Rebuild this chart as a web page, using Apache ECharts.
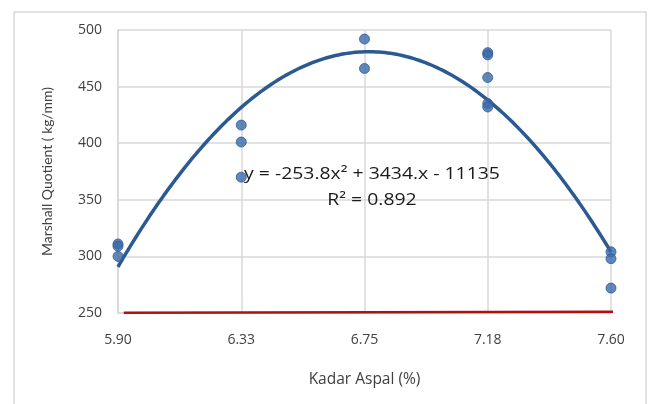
<!DOCTYPE html>
<html>
<head>
<meta charset="utf-8">
<script src="https://cdn.jsdelivr.net/npm/echarts@6/dist/echarts.min.js"></script>
<style>
  html, body { margin: 0; padding: 0; background: #ffffff; }
  #chart { width: 648px; height: 404px; }
</style>
</head>
<body>
<div id="chart"></div>
<script>
// Asphalt content (%) at each test group and the tick labels shown under them
const kadarAspal = [5.9, 6.325, 6.75, 7.175, 7.6];
const xTickLabels = ['5.90', '6.33', '6.75', '7.18', '7.60'];

// Marshall Quotient (kg/mm) of the specimens at each asphalt content
const mqAt590 = [311, 309, 300];
const mqAt633 = [416, 401, 370];
const mqAt675 = [492, 466];
const mqAt718 = [480, 478, 458, 435, 432];
const mqAt760 = [304, 298, 272];

// Polynomial trend line coefficients: y = a x^2 + b x + c
const trendA = -253.8;
const trendB = 3434;
const trendC = -11135;
const trendR2 = 0.892;

// Minimum limit line
const limitLine = [[5.92, 250.3], [7.62, 251.2]];

const groups = [mqAt590, mqAt633, mqAt675, mqAt718, mqAt760];
const scatterData = [];
groups.forEach((vals, i) => vals.forEach(v => scatterData.push([kadarAspal[i], v])));

const trendData = [];
for (let k = 0; k <= 170; k++) {
  const x = 5.9 + k * 0.01;
  trendData.push([x, trendA * x * x + trendB * x + trendC]);
}

const wide = '"Open Sans", sans-serif';
const narrow = 'Lato, "Open Sans", sans-serif';
const chart = echarts.init(document.getElementById('chart'), null, { renderer: 'canvas' });

chart.setOption({
  backgroundColor: '#ffffff',
  animation: false,
  grid: { left: 118, right: 37, top: 30, bottom: 91, containLabel: false },
  graphic: [{
    type: 'rect',
    shape: { x: 14, y: 12, width: 632, height: 400 },
    style: { fill: 'none', stroke: '#d9d9d9', lineWidth: 1.5 },
    silent: true
  }, {
    type: 'text',
    x: 372,
    y: 161,
    scaleX: 1.14,
    style: {
      text: 'y = -253.8x² + 3434.x - 11135\nR² = ' + trendR2,
      font: '17px ' + wide,
      fill: '#1a1a1a',
      align: 'center',
      verticalAlign: 'top',
      lineHeight: 26
    },
    z: 10
  }],
  xAxis: {
    type: 'value',
    min: 5.9,
    max: 7.6,
    name: 'Kadar Aspal (%)',
    nameLocation: 'middle',
    nameGap: 59,
    nameTextStyle: { color: '#404040', fontSize: 15.5, fontFamily: wide },
    axisLine: { show: true, onZero: false, lineStyle: { color: '#d9d9d9', width: 1.5 } },
    axisTick: { show: false, customValues: kadarAspal },
    axisLabel: {
      customValues: kadarAspal,
      margin: 20,
      color: '#404040',
      fontSize: 14,
      fontFamily: wide,
      formatter: v => xTickLabels[kadarAspal.findIndex(k => Math.abs(k - v) < 1e-6)] || ''
    },
    splitLine: { show: true, lineStyle: { color: '#d9d9d9', width: 1.5 } }
  },
  yAxis: {
    type: 'value',
    min: 250,
    max: 500,
    interval: 50,
    name: 'Marshall Quotient ( kg/mm)',
    nameLocation: 'middle',
    nameGap: 64,
    nameTextStyle: { color: '#404040', fontSize: 14, fontFamily: narrow },
    axisLine: { show: true, lineStyle: { color: '#d9d9d9', width: 1.5 } },
    axisTick: { show: false },
    axisLabel: { color: '#404040', fontSize: 14, fontFamily: wide, margin: 16 },
    splitLine: { show: true, lineStyle: { color: '#d9d9d9', width: 1.5 } }
  },
  series: [{
    type: 'line',
    data: limitLine,
    symbol: 'none',
    clip: false,
    lineStyle: { color: '#b01010', width: 2.5 },
    z: 3
  }, {
    type: 'line',
    data: trendData,
    symbol: 'none',
    smooth: false,
    lineStyle: { color: '#2b5a93', width: 3.5 },
    z: 4
  }, {
    type: 'scatter',
    data: scatterData,
    symbolSize: 10,
    itemStyle: { color: '#3a6aaa', borderColor: '#2f5b94', borderWidth: 1 },
    z: 5
  }]
});
</script>
</body>
</html>
